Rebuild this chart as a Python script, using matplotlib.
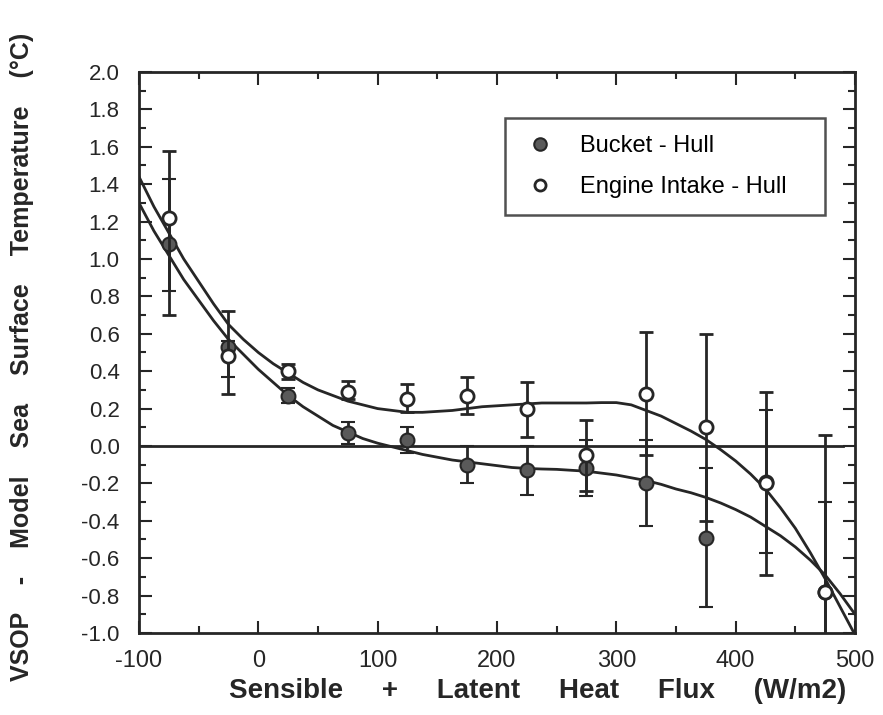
import matplotlib
matplotlib.use("Agg")
import matplotlib.pyplot as plt
from matplotlib.lines import Line2D
from matplotlib.ticker import MultipleLocator

plt.rcParams["axes.unicode_minus"] = False

# bin centres of the heat flux (W/m2)
flux = [-75, -25, 25, 75, 125, 175, 225, 275, 325, 375, 425, 475]

# Bucket - Hull (filled)
bucket = [1.08, 0.53, 0.27, 0.07, 0.03, -0.10, -0.13, -0.12, -0.20, -0.49, -0.19, -0.78]
bucket_lo = [0.25, 0.16, 0.04, 0.06, 0.07, 0.10, 0.13, 0.15, 0.23, 0.37, 0.38, 0.48]
bucket_hi = [0.35, 0.03, 0.04, 0.06, 0.07, 0.10, 0.13, 0.15, 0.23, 0.37, 0.38, 0.48]

# Engine Intake - Hull (open)
intake = [1.22, 0.48, 0.40, 0.29, 0.25, 0.27, 0.20, -0.05, 0.28, 0.10, -0.20, -0.78]
intake_lo = [0.52, 0.20, 0.04, 0.04, 0.07, 0.10, 0.15, 0.19, 0.33, 0.50, 0.49, 0.84]
intake_hi = [0.36, 0.24, 0.04, 0.06, 0.08, 0.10, 0.14, 0.19, 0.33, 0.50, 0.49, 0.84]

# fitted curves
curve_x = [-100, -87.5, -75, -62.5, -50, -37.5, -25, -12.5, 0, 12.5, 25, 37.5, 50,
           62.5, 75, 87.5, 100, 112.5, 125, 137.5, 150, 162.5, 175, 187.5, 200,
           212.5, 225, 237.5, 250, 262.5, 275, 287.5, 300, 312.5, 325, 337.5, 350,
           362.5, 375, 387.5, 400, 412.5, 425, 437.5, 450, 462.5, 475, 487.5, 500]
intake_fit = [1.44, 1.28, 1.14, 1.00, 0.88, 0.76, 0.65, 0.57, 0.50, 0.44, 0.39, 0.34, 0.30,
              0.27, 0.24, 0.22, 0.20, 0.19, 0.18, 0.18, 0.185, 0.19, 0.20, 0.21, 0.215,
              0.22, 0.225, 0.23, 0.23, 0.23, 0.23, 0.232, 0.232, 0.22, 0.19, 0.16, 0.12,
              0.08, 0.035, -0.02, -0.08, -0.15, -0.23, -0.33, -0.44, -0.57, -0.71, -0.86, -1.01]
bucket_fit = [1.30, 1.15, 1.02, 0.89, 0.78, 0.67, 0.57, 0.49, 0.41, 0.34, 0.27, 0.21, 0.16,
              0.11, 0.075, 0.04, 0.015, -0.005, -0.025, -0.045, -0.06, -0.075, -0.085, -0.095, -0.105,
              -0.115, -0.12, -0.123, -0.125, -0.13, -0.135, -0.145, -0.155, -0.17, -0.185, -0.205, -0.23,
              -0.25, -0.275, -0.305, -0.34, -0.38, -0.43, -0.48, -0.54, -0.61, -0.69, -0.79, -0.90]

ink = "#262626"

fig = plt.figure(figsize=(8.83, 7.15), dpi=100)
ax = fig.add_axes([0.1574, 0.1147, 0.9683 - 0.1574, 0.8993 - 0.1147])

ax.plot([-100, 490], [0, 0], color=ink, lw=2)
ax.plot(curve_x, intake_fit, color=ink, lw=2)
ax.plot(curve_x, bucket_fit, color=ink, lw=2)

ax.errorbar(flux, bucket, yerr=[bucket_lo, bucket_hi], fmt="o", color=ink,
            mfc="#5a5a5a", mec=ink, ms=10, mew=1.5, ecolor=ink, elinewidth=2,
            capsize=5, capthick=2, zorder=3)
ax.errorbar(flux, intake, yerr=[intake_lo, intake_hi], fmt="o", color=ink,
            mfc="white", mec=ink, ms=9.5, mew=2, ecolor=ink, elinewidth=2,
            capsize=5, capthick=2, zorder=4)

ax.set_xlim(-100, 500)
ax.set_ylim(-1.0, 2.0)
ax.xaxis.set_major_locator(MultipleLocator(100))
ax.xaxis.set_minor_locator(MultipleLocator(50))
ax.yaxis.set_major_locator(MultipleLocator(0.2))
ax.yaxis.set_minor_locator(MultipleLocator(0.1))
ax.yaxis.set_major_formatter(plt.FormatStrFormatter("%.1f"))
ax.tick_params(which="both", direction="in", top=True, right=True, width=1.5, colors=ink)
ax.tick_params(which="major", length=9)
ax.tick_params(which="minor", length=5)
ax.tick_params(axis="y", which="major", pad=14)
ax.tick_params(axis="x", which="major", pad=12)
for lab in ax.get_yticklabels():
    lab.set_fontfamily("Liberation Sans")
    lab.set_fontsize(16)
for lab in ax.get_xticklabels():
    lab.set_fontfamily("Liberation Sans")
    lab.set_fontsize(17)
for s in ax.spines.values():
    s.set_linewidth(2)
    s.set_color(ink)

ax.set_xlabel("Sensible     +     Latent     Heat     Flux     (W/m2)", fontsize=20,
              fontweight="bold", family="Liberation Sans", color=ink)
ax.xaxis.set_label_coords(0.557, -0.08)
ax.set_ylabel("VSOP    -    Model    Sea    Surface    Temperature    (\u00b0C)", fontsize=18,
              fontweight="bold", family="Liberation Sans", color=ink)
ax.yaxis.set_label_coords(-0.147, 0.492)

handles = [
    Line2D([], [], ls="none", marker="o", ms=9, mfc="#5a5a5a", mec=ink, mew=1.5),
    Line2D([], [], ls="none", marker="o", ms=8, mfc="white", mec=ink, mew=2),
]
leg = ax.legend(handles, ["Bucket - Hull", "Engine Intake - Hull"], loc="lower left",
                bbox_to_anchor=(0.511, 0.745, 0.447, 0.173), mode="expand",
                borderaxespad=0, frameon=True, fancybox=False, edgecolor=ink,
                prop={"family": "Liberation Sans", "size": 17}, handletextpad=0.95,
                handlelength=1.5, labelspacing=0.8, borderpad=0.73)
leg.get_frame().set_linewidth(1.8)

fig.savefig("out.png", dpi=100)
